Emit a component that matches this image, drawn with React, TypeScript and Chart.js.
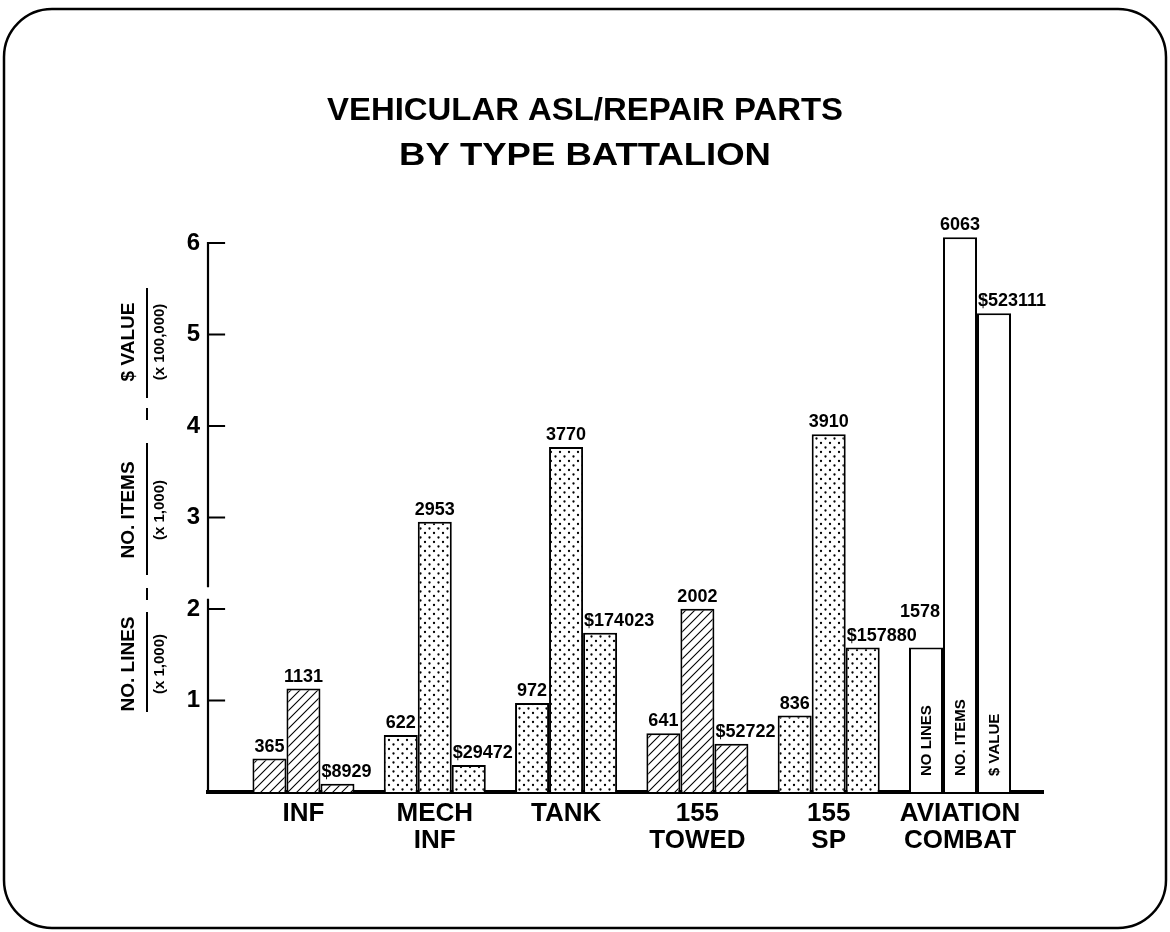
import React, { useEffect, useRef } from 'react';
import { Chart, registerables } from 'chart.js';

Chart.register(...registerables);

// ---------- data ----------
const titleLines = ['VEHICULAR ASL/REPAIR PARTS', 'BY TYPE BATTALION'];
const categories: string[][] = [
  ['INF'],
  ['MECH', 'INF'],
  ['TANK'],
  ['155', 'TOWED'],
  ['155', 'SP'],
  ['AVIATION', 'COMBAT'],
];
const seriesNames = ['NO. LINES', 'NO. ITEMS', '$ VALUE'];
const noLines = [365, 622, 972, 641, 836, 1578];
const noItems = [1131, 2953, 3770, 2002, 3910, 6063];
const dollarValue = [8929, 29472, 174023, 52722, 157880, 523111];
const seriesDivisors = [1000, 1000, 100000];
const yTickValues = [1, 2, 3, 4, 5, 6];
const yAxisTitles = [
  { name: 'NO. LINES', unit: '(x 1,000)' },
  { name: 'NO. ITEMS', unit: '(x 1,000)' },
  { name: '$ VALUE', unit: '(x 100,000)' },
];
const aviationBarTexts = ['NO LINES', 'NO. ITEMS', '$ VALUE'];

// ---------- styles ----------
const FONT = "'Liberation Sans', Arial, Helvetica, sans-serif";
const categoryFill = ['hatch', 'dots', 'dots', 'hatch', 'dots', 'plain'];
const titleWidths = [516, 372];

function makePattern(kind: string): CanvasPattern | string {
  if (kind === 'plain') return '#ffffff';
  const c = document.createElement('canvas');
  const s = 9;
  c.width = s;
  c.height = s;
  const g = c.getContext('2d')!;
  g.fillStyle = '#fff';
  g.fillRect(0, 0, s, s);
  g.fillStyle = '#000';
  g.strokeStyle = '#000';
  if (kind === 'hatch') {
    g.lineWidth = 1.1;
    g.beginPath();
    g.moveTo(0, s);
    g.lineTo(s, 0);
    g.moveTo(-2, 2);
    g.lineTo(2, -2);
    g.moveTo(s - 2, s + 2);
    g.lineTo(s + 2, s - 2);
    g.stroke();
  } else {
    g.beginPath();
    g.arc(2, 2, 1.15, 0, Math.PI * 2);
    g.arc(6.5, 6.5, 1.15, 0, Math.PI * 2);
    g.fill();
  }
  return g.createPattern(c, 'repeat')!;
}

function drawRotated(ctx: CanvasRenderingContext2D, text: string, cx: number, cy: number, font: string, align: CanvasTextAlign = 'center') {
  ctx.save();
  ctx.translate(cx, cy);
  ctx.rotate(-Math.PI / 2);
  ctx.font = font;
  ctx.textAlign = align;
  ctx.textBaseline = 'middle';
  ctx.fillStyle = '#000';
  ctx.fillText(text, 0, 0);
  ctx.restore();
}

export default function App() {
  const ref = useRef<HTMLCanvasElement | null>(null);

  useEffect(() => {
    const canvas = ref.current;
    if (!canvas) return;
    const fills = categoryFill.map(makePattern);
    const series = [noLines, noItems, dollarValue];

    const framePlugin = {
      id: 'frame',
      beforeDraw(chart: any) {
        const ctx = chart.ctx as CanvasRenderingContext2D;
        ctx.save();
        ctx.fillStyle = '#fff';
        ctx.fillRect(0, 0, chart.width, chart.height);
        ctx.strokeStyle = '#000';
        ctx.lineWidth = 2.5;
        ctx.beginPath();
        ctx.roundRect(4, 9, 1162, 919, 48);
        ctx.stroke();
        // title
        ctx.fillStyle = '#000';
        ctx.textAlign = 'center';
        ctx.textBaseline = 'middle';
        ctx.font = `bold 31px ${FONT}`;
        titleLines.forEach((t, i) => {
          const w = ctx.measureText(t).width;
          ctx.save();
          ctx.translate(585, 111 + i * 45);
          ctx.scale(titleWidths[i] / w, 1);
          ctx.fillText(t, 0, 0);
          ctx.restore();
        });
        // y axis title
        const nameX = 129, ruleX = 147, unitX = 160;
        const centers = [664, 510, 342];
        const spans = [[612, 712], [443, 575], [288, 398]];
        const dashes = [[588, 600], [408, 420]];
        yAxisTitles.forEach((g, i) => {
          drawRotated(ctx, g.name, nameX, centers[i], `bold 19px ${FONT}`);
          drawRotated(ctx, g.unit, unitX, centers[i], `bold 15px ${FONT}`);
        });
        ctx.lineWidth = 2;
        ctx.beginPath();
        spans.concat(dashes).forEach(([a, b]) => {
          ctx.moveTo(ruleX, a);
          ctx.lineTo(ruleX, b);
        });
        ctx.stroke();
        ctx.restore();
      },
    };

    const annotatePlugin = {
      id: 'annotate',
      afterDatasetsDraw(chart: any) {
        const ctx = chart.ctx as CanvasRenderingContext2D;
        const ys = chart.scales.y;
        const x0 = chart.chartArea.left;
        ctx.save();
        // y axis line with break and inward ticks
        ctx.strokeStyle = '#000';
        ctx.lineWidth = 2.2;
        ctx.lineCap = 'square';
        ctx.beginPath();
        ctx.moveTo(x0, ys.getPixelForValue(0));
        ctx.lineTo(x0, ys.getPixelForValue(2.1));
        ctx.moveTo(x0, ys.getPixelForValue(2.25));
        ctx.lineTo(x0, ys.getPixelForValue(6));
        yTickValues.forEach((v) => {
          const py = ys.getPixelForValue(v);
          ctx.moveTo(x0, py);
          ctx.lineTo(x0 + 16, py);
        });
        ctx.stroke();

        // value labels
        ctx.font = `bold 18px ${FONT}`;
        ctx.fillStyle = '#000';
        ctx.textBaseline = 'alphabetic';
        const boxes: { l: number; r: number; t: number; b: number }[] = [];
        const overlap = (a: any, b: any) => a.l < b.r && a.r > b.l && a.t < b.b && a.b > b.t;
        categories.forEach((_, i) => {
          series.forEach((vals, d) => {
            const bar = chart.getDatasetMeta(d).data[i];
            const { x, y, width } = bar.getProps(['x', 'y', 'width'], true);
            const text = d === 2 ? `$${vals[i]}` : String(vals[i]);
            const w = ctx.measureText(text).width;
            let base = y - 7;
            let l = d === 2 ? x - width / 2 + 1 : x - w / 2;
            let box = { l, r: l + w, t: base - 13, b: base };
            const hit = boxes.find((bx) => overlap(box, bx));
            if (hit) {
              base = hit.t - 11;
              l = x + width / 2 - 3 - w;
              box = { l, r: l + w, t: base - 13, b: base };
            }
            boxes.push(box);
            ctx.textAlign = 'left';
            ctx.fillText(text, l, base);
          });
        });

        // inner labels of the aviation bars
        const last = categories.length - 1;
        series.forEach((_, d) => {
          const bar = chart.getDatasetMeta(d).data[last];
          const { x } = bar.getProps(['x'], true);
          drawRotated(ctx, aviationBarTexts[d], x + 1, ys.getPixelForValue(0) - 16, `bold 15px ${FONT}`, 'left');
        });
        ctx.restore();
      },
    };

    const chart = new Chart(canvas, {
      type: 'bar',
      data: {
        datasets: series.map((vals, d) => ({
          label: seriesNames[d],
          data: vals.map((v, i) => ({ x: i, y: v / seriesDivisors[d] })),
          backgroundColor: fills as any,
          borderColor: '#000',
          borderWidth: 2,
          categoryPercentage: 0.777,
          barPercentage: 1,
          clip: false,
        })),
      },
      options: {
        animation: false,
        responsive: false,
        devicePixelRatio: 1,
        layout: { padding: { left: 0, right: 127, top: 243, bottom: 40 } },
        plugins: {
          legend: { display: false },
          tooltip: { enabled: false },
          title: { display: false },
        },
        scales: {
          x: {
            type: 'linear',
            min: -0.727,
            max: 5.632,
            offset: false,
            grid: { display: false, drawTicks: false },
            border: { display: true, color: '#000', width: 4 },
            afterBuildTicks: (s: any) => {
              s.ticks = categories.map((_, i) => ({ value: i }));
            },
            afterFit: (s: any) => {
              s.height = 100;
            },
            ticks: {
              callback: (v: any) => categories[v as number],
              color: '#000',
              font: { family: FONT, size: 26, weight: 'bold', lineHeight: 1.05 },
              padding: 8,
              maxRotation: 0,
              autoSkip: false,
            },
          },
          y: {
            min: 0,
            max: 6,
            grid: { display: false, drawTicks: false },
            border: { display: false },
            afterBuildTicks: (s: any) => {
              s.ticks = yTickValues.map((v) => ({ value: v }));
            },
            afterFit: (s: any) => {
              s.width = 208;
            },
            ticks: {
              color: '#000',
              font: { family: FONT, size: 24, weight: 'bold' },
              padding: 8,
            },
          },
        },
      },
      plugins: [framePlugin, annotatePlugin],
    } as any);
    return () => chart.destroy();
  }, []);

  return (
    <div style={{ position: 'fixed', left: 0, top: 0, width: 1170, height: 932, background: '#fff' }}>
      <canvas ref={ref} width={1170} height={932} style={{ width: 1170, height: 932, display: 'block' }} />
    </div>
  );
}
